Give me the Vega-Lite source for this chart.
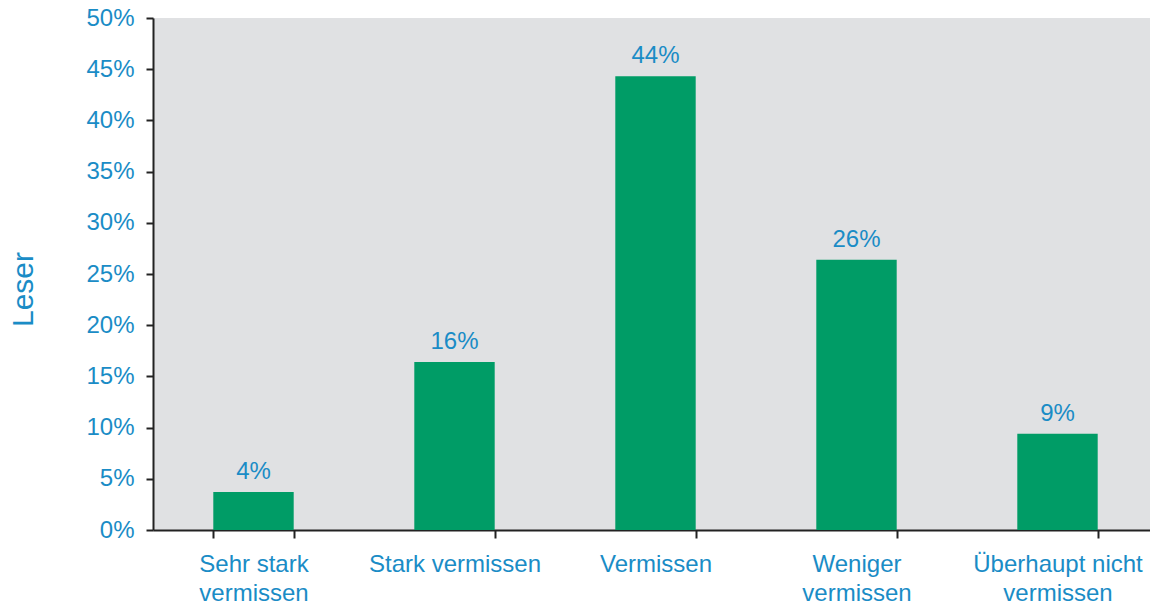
{
  "$schema": "https://vega.github.io/schema/vega-lite/v6.json",
  "autosize": "none",
  "width": 1005,
  "height": 512,
  "padding": {"left": 153, "top": 18, "right": -8, "bottom": 78},
  "background": "white",
  "config": {
    "view": {"fill": "#e0e1e3", "stroke": null},
    "font": "Liberation Sans"
  },
  "data": {
    "values": [
      {"kategorie": "Sehr stark vermissen", "anteil": 0.037},
      {"kategorie": "Stark vermissen", "anteil": 0.164},
      {"kategorie": "Vermissen", "anteil": 0.443},
      {"kategorie": "Weniger vermissen", "anteil": 0.264},
      {"kategorie": "Überhaupt nicht vermissen", "anteil": 0.094}
    ]
  },
  "encoding": {
    "x": {
      "field": "kategorie",
      "type": "nominal",
      "sort": null,
      "scale": {"paddingInner": 0.6, "paddingOuter": 0.3},
      "axis": {
        "title": null,
        "labelAngle": 0,
        "labelFontSize": 24,
        "labelColor": "#1a8cc6",
        "labelFont": "Liberation Sans",
        "labelPadding": 14,
        "labelLineHeight": 29,
        "labelBaseline": "top",
        "tickBand": "extent",
        "tickSize": 8,
        "tickWidth": 2,
        "tickColor": "#222222",
        "domainColor": "#222222",
        "domainWidth": 2,
        "labelExpr": "(datum.label == 'Stark vermissen' || datum.label == 'Vermissen') ? datum.label : [substring(datum.label, 0, lastindexof(datum.label, ' ')), substring(datum.label, lastindexof(datum.label, ' ') + 1)]"
      }
    },
    "y": {
      "field": "anteil",
      "type": "quantitative",
      "scale": {"domain": [0, 0.5], "nice": false},
      "axis": {
        "title": "Leser",
        "titleFontSize": 30,
        "titleFontWeight": "normal",
        "titleColor": "#1a8cc6",
        "titleAngle": 270,
        "titleAlign": "center",
        "titleBaseline": "middle",
        "titleX": -130,
        "titleY": 271,
        "format": ".0%",
        "values": [0, 0.05, 0.1, 0.15, 0.2, 0.25, 0.3, 0.35, 0.4, 0.45, 0.5],
        "grid": false,
        "labelFontSize": 24,
        "labelColor": "#1a8cc6",
        "labelPadding": 12,
        "tickSize": 7,
        "tickWidth": 2,
        "tickColor": "#222222",
        "domainColor": "#222222",
        "domainWidth": 2
      }
    }
  },
  "layer": [
    {"mark": {"type": "bar", "color": "#009c66"}},
    {
      "mark": {"type": "text", "baseline": "bottom", "dy": -8, "fontSize": 24, "color": "#1a8cc6"},
      "encoding": {"text": {"field": "anteil", "format": ".0%"}}
    }
  ]
}
